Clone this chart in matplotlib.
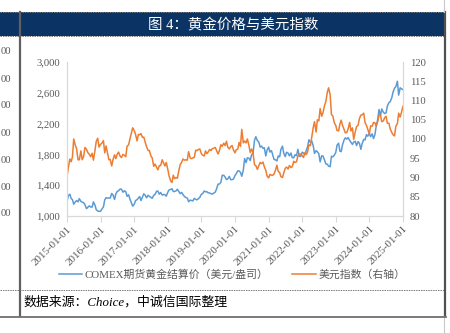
"""
黄金价格与美元指数 (COMEX gold vs. US dollar index), 2015-2024.
"""

import pandas as pd
import matplotlib
matplotlib.use("Agg")
import matplotlib.pyplot as plt
import matplotlib.dates as mdates
from matplotlib.patches import Rectangle
from matplotlib.lines import Line2D

plt.rcParams["font.family"] = ["Liberation Serif", "Noto Sans CJK SC", "DejaVu Sans"]

# ======================  Data (1st / 15th of month)  ======================
gold = [
    1184, 1264, 1283, 1227, 1213, 1153, 1183, 1200, 1184, 1225, 1190, 1180,
    1172, 1147, 1095, 1113, 1132, 1117, 1115, 1183, 1142, 1081, 1065, 1061,
    1061, 1090, 1117, 1208, 1238, 1232, 1234, 1234, 1293, 1274, 1215, 1286,
    1321, 1327, 1351, 1348, 1309, 1327, 1316, 1255, 1276, 1222, 1173, 1128,
    1152, 1200, 1212, 1232, 1253, 1201, 1249, 1288, 1268, 1236, 1269, 1255,
    1242, 1230, 1269, 1280, 1322, 1324, 1283, 1305, 1271, 1280, 1276, 1257,
    1309, 1339, 1345, 1355, 1318, 1318, 1327, 1347, 1318, 1290, 1306, 1278,
    1253, 1241, 1233, 1185, 1206, 1201, 1196, 1229, 1215, 1210, 1226, 1242,
    1282, 1291, 1325, 1314, 1316, 1302, 1298, 1290, 1285, 1296, 1311, 1352,
    1413, 1415, 1437, 1527, 1529, 1507, 1473, 1483, 1514, 1472, 1473, 1478,
    1523, 1550, 1587, 1586, 1566, 1516, 1596, 1745, 1694, 1756, 1751, 1720,
    1800, 1812, 1986, 2030, 1978, 1964, 1895, 1908, 1879, 1887, 1780, 1855,
    1895, 1830, 1850, 1794, 1734, 1731, 1715, 1780, 1768, 1867, 1907, 1813,
    1771, 1828, 1817, 1781, 1818, 1757, 1757, 1796, 1784, 1866, 1776, 1772,
    1829, 1817, 1796, 1856, 1900, 1990, 1954, 1975, 1911, 1813, 1848, 1834,
    1807, 1703, 1782, 1779, 1726, 1677, 1672, 1648, 1640, 1776, 1768, 1787,
    1826, 1920, 1945, 1842, 1836, 1923, 1986, 2015, 1999, 2018, 1982, 1958,
    1929, 1960, 1970, 1915, 1966, 1945, 1866, 1940, 1995, 1988, 2057, 2036,
    2072, 2030, 2067, 2005, 2054, 2160, 2254, 2383, 2303, 2390, 2348, 2331,
    2339, 2428, 2473, 2485, 2536, 2610, 2660, 2680, 2750, 2570, 2665, 2652,
    2641,
]
dxy = [
    90.3, 92.5, 94.8, 94.1, 95.3, 100.0, 98.4, 97.5, 94.6, 94.6, 96.9, 94.6,
    95.5, 97.8, 97.3, 96.5, 96.0, 95.4, 96.3, 94.5, 97.0, 99.4, 100.2, 97.9,
    98.6, 98.9, 99.6, 96.4, 98.2, 96.5, 94.6, 94.7, 93.0, 94.6, 95.9, 94.9,
    96.1, 96.6, 95.5, 95.2, 96.0, 95.8, 95.4, 98.1, 98.5, 100.0, 101.5, 102.9,
    102.2, 101.2, 99.5, 101.2, 101.1, 101.4, 100.4, 100.5, 99.1, 98.0, 97.0, 97.0,
    95.6, 95.1, 92.9, 93.5, 92.7, 92.0, 93.1, 93.1, 94.6, 93.8, 93.0, 93.9,
    92.1, 90.4, 89.1, 88.7, 90.6, 89.7, 90.0, 89.8, 91.8, 93.3, 94.0, 94.8,
    94.5, 94.6, 94.5, 96.7, 95.1, 94.9, 95.1, 95.2, 97.1, 97.0, 97.3, 97.4,
    96.2, 95.8, 95.6, 96.9, 96.2, 96.6, 97.3, 97.0, 97.5, 97.6, 97.8, 97.0,
    96.1, 96.9, 98.5, 98.1, 98.9, 98.3, 99.4, 97.9, 97.4, 98.0, 98.3, 97.2,
    96.4, 97.2, 97.4, 99.1, 98.1, 102.5, 99.0, 99.5, 99.0, 100.0, 98.3, 96.5,
    97.4, 96.4, 93.3, 93.1, 92.1, 93.0, 93.9, 93.6, 94.0, 92.8, 91.9, 90.4,
    89.9, 90.8, 90.6, 90.6, 90.9, 91.8, 93.2, 91.6, 91.3, 90.2, 90.0, 91.2,
    92.4, 92.7, 92.2, 93.1, 92.6, 92.8, 94.2, 93.9, 94.1, 95.6, 96.0, 96.1,
    95.7, 95.2, 96.5, 96.0, 96.7, 98.5, 98.3, 100.5, 103.0, 104.5, 101.8, 105.0,
    104.7, 107.9, 105.9, 106.8, 108.7, 109.7, 112.1, 113.3, 111.5, 106.4, 105.9, 104.3,
    103.5, 102.2, 102.1, 103.9, 104.9, 103.6, 102.5, 101.6, 101.7, 102.6, 104.3, 102.1,
    102.9, 99.9, 101.9, 103.2, 103.6, 105.3, 106.2, 106.3, 106.7, 104.3, 103.5, 102.5,
    101.3, 103.4, 103.3, 104.3, 104.2, 103.4, 104.5, 106.1, 106.2, 104.5, 104.7, 105.5,
    105.9, 104.1, 104.1, 102.6, 101.7, 101.1, 100.8, 103.3, 104.0, 106.7, 105.7, 106.9,
    108.5,
]
dates = pd.date_range("2015-01-01", periods=len(gold), freq="SMS")

gold_ticks = [1000, 1400, 1800, 2200, 2600, 3000]
dxy_ticks = [80, 85, 90, 95, 100, 105, 110, 115, 120]
year_ticks = pd.date_range("2015-01-01", "2025-01-01", freq="YS")

title = "图 4：黄金价格与美元指数"
gold_label = "COMEX期货黄金结算价（美元/盎司）"
dxy_label = "美元指数（右轴）"
source = "数据来源：Choice，中诚信国际整理"

W, H = 450, 333
BLUE, ORANGE, GREY = "#5B9BD5", "#ED7D31", "#595959"


def fx(x):
    return x / W


def fy(y):
    return 1 - y / H


def fit_width(fig, txt, width_px):
    # scale a text's font size so it spans the width seen in the picture
    fig.canvas.draw()
    w = txt.get_window_extent().width
    txt.set_fontsize(txt.get_fontsize() * width_px / w)


fig = plt.figure(figsize=(4.5, 3.33), dpi=100)

# ======================  Page frame  ======================
fig.add_artist(Rectangle((0, fy(36)), fx(444), fy(12) - fy(36),
                         transform=fig.transFigure, color="#0B3464", lw=0))
for yy in (12, 36, 290):
    fig.add_artist(Line2D([0, fx(444)], [fy(yy), fy(yy)], transform=fig.transFigure,
                          color="#777777", lw=0.7, ls=(0, (1.5, 1))))
fig.add_artist(Line2D([fx(20), fx(20)], [fy(12), fy(316)], transform=fig.transFigure,
                      color="#606060", lw=1.6))
fig.add_artist(Line2D([fx(444.5), fx(444.5)], [fy(12), fy(316)], transform=fig.transFigure,
                      color="#505050", lw=1.6))
fig.add_artist(Line2D([fx(444), fx(444)], [fy(0), fy(12)], transform=fig.transFigure,
                      color="#C8C8C8", lw=0.8))
fig.add_artist(Line2D([fx(444), fx(444)], [fy(316), fy(333)], transform=fig.transFigure,
                      color="#C8C8C8", lw=0.8))
fig.add_artist(Line2D([0, fx(446)], [fy(316.5), fy(316.5)], transform=fig.transFigure,
                      color="#707070", lw=1.3))

t_title = fig.text(fx(233), fy(24), title, color="white", fontsize=10,
                   ha="center", va="center")
t_src = fig.text(fx(23), fy(302), source, fontsize=8.5, style="italic",
                 ha="left", va="center", color="black")

# clipped tick labels of the neighbouring chart
for yy in (52, 79, 106, 133, 160, 187, 213):
    fig.text(fx(0.5), fy(yy), "00", fontsize=7.7, color=GREY, ha="left", va="center")

# ======================  Chart  ======================
ax = fig.add_axes([fx(67), fy(216), fx(403) - fx(67), fy(62) - fy(216)])
ax2 = ax.twinx()

ax.plot(dates, gold, color=BLUE, lw=1.1, label=gold_label)
ax2.plot(dates, dxy, color=ORANGE, lw=1.1, label=dxy_label)

ax.set_xlim(pd.Timestamp("2015-01-01"), pd.Timestamp("2025-01-01"))
ax.set_ylim(1000, 3000)
ax2.set_ylim(80, 120)
ax.set_yticks(gold_ticks)
ax.set_yticklabels([f"{v:,}" for v in gold_ticks])
ax2.set_yticks(dxy_ticks)
ax.set_xticks(year_ticks)
ax.xaxis.set_major_formatter(mdates.DateFormatter("%Y-%m-%d"))
plt.setp(ax.get_xticklabels(), rotation=45, ha="right", rotation_mode="anchor")

for a in (ax, ax2):
    for side in ("left", "right", "bottom"):
        a.spines[side].set_color("#D9D9D9")
    a.spines["top"].set_visible(False)
    a.tick_params(axis="y", length=0, labelsize=7.7, labelcolor=GREY, pad=5)
ax.tick_params(axis="x", length=4, color="#D9D9D9", labelsize=7.9,
               labelcolor=GREY, pad=2)

h1, l1 = ax.get_legend_handles_labels()
h2, l2 = ax2.get_legend_handles_labels()
fig.legend(h1 + h2, l1 + l2, loc="center", bbox_to_anchor=(fx(232), fy(275)),
           ncol=2, frameon=False, fontsize=7.8, labelcolor=GREY,
           handlelength=2.2, handletextpad=0.2, columnspacing=2.2)

fit_width(fig, t_title, 170)
fit_width(fig, t_src, 204)

fig.savefig("out.png", dpi=100)
